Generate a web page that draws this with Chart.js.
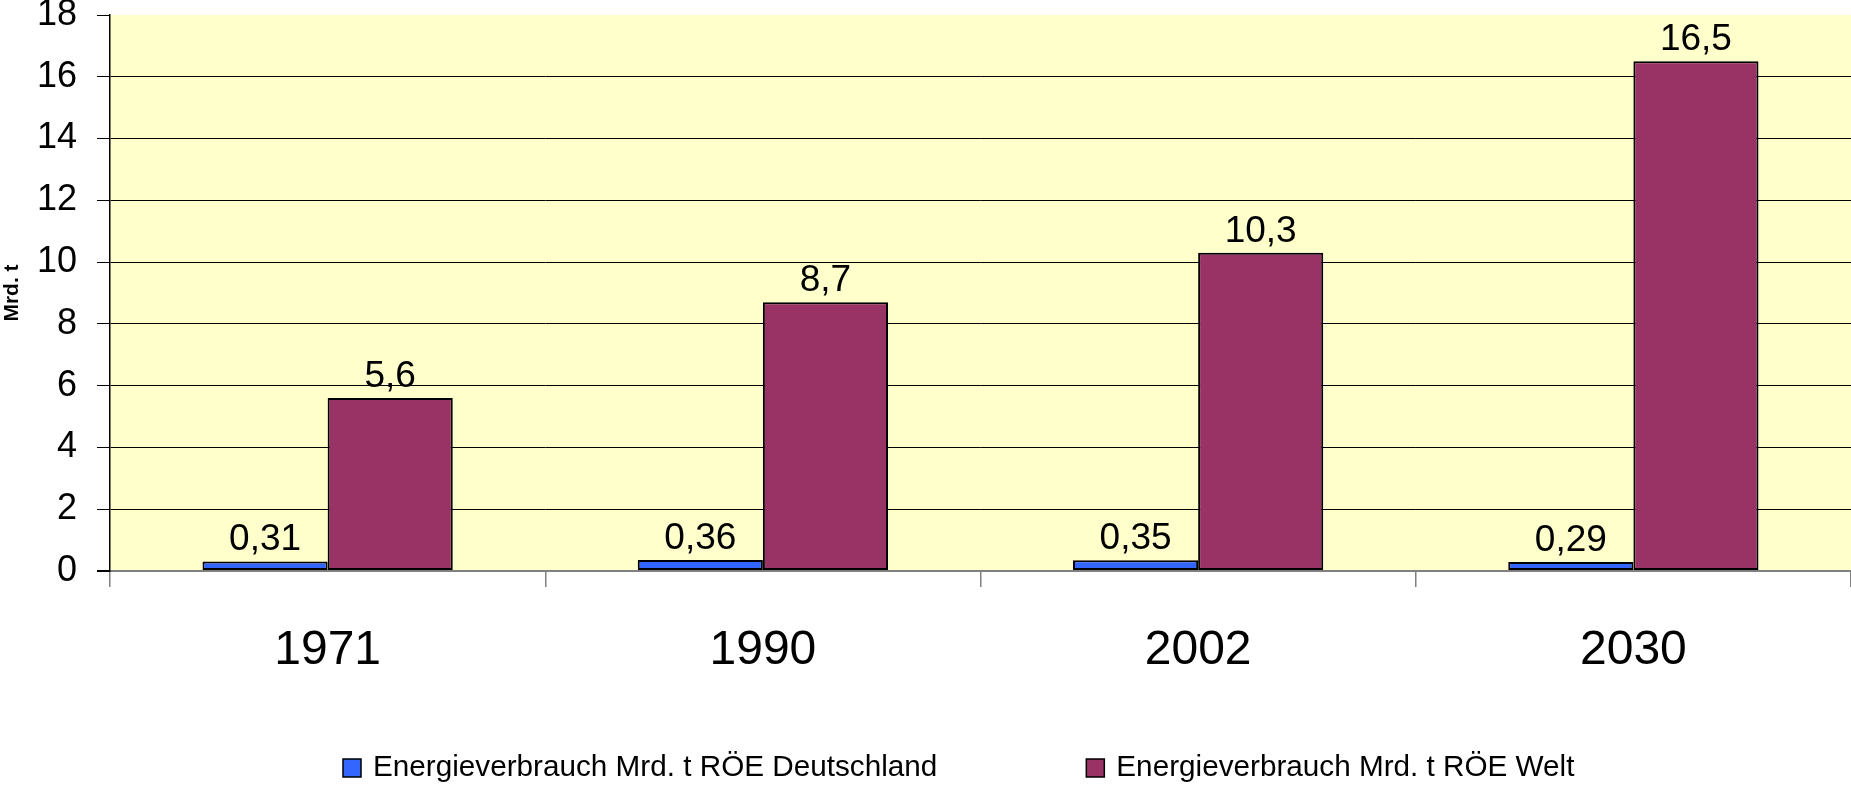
<!DOCTYPE html>
<html>
<head>
<meta charset="utf-8">
<title>Energieverbrauch</title>
<script src="https://cdn.jsdelivr.net/npm/chart.js@4.4.1/dist/chart.umd.min.js"></script>
<style>
  html, body { margin: 0; padding: 0; background: #ffffff; }
  #wrap { width: 1851px; height: 787px; }
</style>
</head>
<body>
<div id="wrap"><canvas id="energyChart" width="1851" height="787"></canvas></div>
<script>
// chart data
const years = ['1971', '1990', '2002', '2030'];
const germany = [0.31, 0.36, 0.35, 0.29];
const world = [5.6, 8.7, 10.3, 16.5];
const seriesNames = ['Energieverbrauch Mrd. t RÖE Deutschland', 'Energieverbrauch Mrd. t RÖE Welt'];
const seriesColors = ['#3366FF', '#993366'];
const yMin = 0, yMax = 18, yStep = 2;
const yTitle = 'Mrd. t';

const FONT = "'Liberation Sans', Arial, sans-serif";

// yellow plot area
const plotBackground = {
    id: 'plotBackground',
    beforeDraw(chart) {
        const { ctx, chartArea: a } = chart;
        ctx.save();
        ctx.fillStyle = '#FFFFCC';
        ctx.fillRect(a.left, a.top, a.right - a.left, a.bottom - a.top);
        ctx.restore();
    }
};

// values above the bars, german decimal comma
const valueLabels = {
    id: 'valueLabels',
    afterDatasetsDraw(chart) {
        const ctx = chart.ctx;
        ctx.save();
        ctx.font = '37px ' + FONT;
        ctx.fillStyle = '#000';
        ctx.textAlign = 'center';
        ctx.textBaseline = 'alphabetic';
        chart.data.datasets.forEach((ds, i) => {
            chart.getDatasetMeta(i).data.forEach((bar, j) => {
                const txt = String(ds.data[j]).replace('.', ',');
                ctx.fillText(txt, bar.x, bar.y - 11);
            });
        });
        ctx.restore();
    }
};

// legend row at the bottom
const bottomLegend = {
    id: 'bottomLegend',
    afterDraw(chart) {
        const ctx = chart.ctx;
        const cy = 768, box = 18, gap = 149;
        let x = 343;
        ctx.save();
        ctx.font = '29.7px ' + FONT;
        ctx.textBaseline = 'middle';
        ctx.textAlign = 'left';
        chart.data.datasets.forEach(ds => {
            ctx.fillStyle = ds.backgroundColor;
            ctx.fillRect(x, cy - box / 2, box, box);
            ctx.lineWidth = 1.5;
            ctx.strokeStyle = '#000';
            ctx.strokeRect(x, cy - box / 2, box, box);
            ctx.fillStyle = '#000';
            ctx.fillText(ds.label, x + 30, cy);
            x += 30 + ctx.measureText(ds.label).width + gap;
        });
        ctx.restore();
    }
};

const ctx = document.getElementById('energyChart').getContext('2d');

const barChart = new Chart(ctx, {
    type: 'bar',
    data: {
        labels: years,
        datasets: [{
            label: seriesNames[0],
            data: germany,
            backgroundColor: seriesColors[0],
            borderColor: '#000',
            borderWidth: 2,
            borderSkipped: false,
            categoryPercentage: 0.575,
            barPercentage: 1.0
        }, {
            label: seriesNames[1],
            data: world,
            backgroundColor: seriesColors[1],
            borderColor: '#000',
            borderWidth: 2,
            borderSkipped: false,
            categoryPercentage: 0.575,
            barPercentage: 1.0
        }]
    },
    options: {
        responsive: false,
        animation: false,
        layout: { padding: { top: 15, right: 0, left: 0, bottom: 116 } },
        plugins: {
            legend: { display: false },
            tooltip: { enabled: false },
            title: { display: false }
        },
        scales: {
            x: {
                grid: {
                    offset: true,
                    drawOnChartArea: false,
                    color: '#808080',
                    lineWidth: 1.5,
                    tickLength: 16
                },
                border: { color: '#808080', width: 2 },
                ticks: {
                    color: '#000',
                    font: { family: FONT, size: 48 },
                    padding: 35,
                    maxRotation: 0
                },
                afterFit(s) {
                    s.height = 100;
                    s.paddingLeft = 0;
                    s.paddingRight = 0;
                }
            },
            y: {
                min: yMin,
                max: yMax,
                ticks: {
                    stepSize: yStep,
                    color: '#000',
                    font: { family: FONT, size: 36 },
                    padding: 20
                },
                grid: {
                    color: c => c.tick && c.tick.value === yMax ? 'rgba(0,0,0,0)'
                        : (c.tick && c.tick.value === yMin ? '#808080' : '#000'),
                    lineWidth: c => c.tick && c.tick.value === yMin ? 2 : 1,
                    tickColor: '#000',
                    tickLength: 13
                },
                border: { color: '#000', width: 1.5 },
                title: {
                    display: true,
                    text: yTitle,
                    color: '#000',
                    font: { family: FONT, size: 21, weight: 'bold' },
                    padding: { top: 0, bottom: 0 }
                },
                afterFit(s) {
                    s.width = 110;
                    s.paddingTop = 0;
                    s.paddingBottom = 0;
                }
            }
        }
    },
    plugins: [plotBackground, valueLabels, bottomLegend]
});
</script>
</body>
</html>
